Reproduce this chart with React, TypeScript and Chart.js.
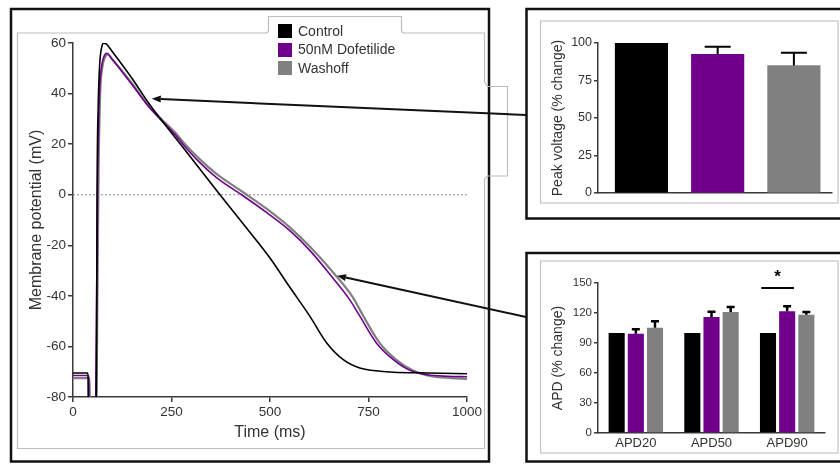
import React, { useEffect, useRef, useState } from 'react';
import { Chart, registerables } from 'chart.js';

Chart.register(...registerables);

const FONT = "'Liberation Sans', Arial, Helvetica, sans-serif";
const TEXT = '#333333';
const AXIS = '#3a3a3a';

// ---------- series ----------
const SERIES = ['Control', '50nM Dofetilide', 'Washoff'];
const COLORS = ['#000000', '#70008c', '#808080'];

// ---------- action potential traces (time in ms, potential in mV) ----------
const CONTROL_TIME = [0, 38, 39, 59, 60, 61, 64, 68, 73, 78, 85, 100, 150, 195, 280, 373, 450, 500, 550, 601, 644, 686, 728, 780, 813, 900, 1000];
const CONTROL_MV = [-70.5, -70.5, -85, -85, -53, -2, 35, 52, 58.5, 60, 59.6, 56.6, 46, 35.6, 18.6, 0, -15, -25, -36.5, -48, -58.6, -65.2, -68.5, -69.8, -70.2, -70.5, -70.8];

const DOF_TIME = [0, 40, 41, 57, 60, 63, 67, 72, 78, 86, 100, 150, 195, 259, 280, 320, 365, 428, 492, 551, 601, 660, 700, 728, 770, 813, 855, 900, 950, 1000];
const DOF_MV = [-71.5, -71.5, -85, -85, -40, 10, 40, 50, 54.5, 56, 53.5, 43.5, 34.3, 23.8, 19.8, 13, 6.7, 0, -7.1, -14.3, -22, -33, -41, -48, -58.6, -65.2, -69.4, -71.2, -71.8, -72];

const WASH_TIME = [0, 42, 43, 59, 62, 65, 69, 74, 80, 88, 100, 150, 195, 260, 280, 320, 365, 430, 492, 551, 601, 669, 710, 737, 778, 820, 862, 910, 960, 1000];
const WASH_MV = [-72.5, -72.5, -85, -85, -40, 10, 40, 50, 54, 55.5, 53.5, 44, 34.6, 24.5, 20.8, 14.3, 8.2, 1.2, -5.6, -13, -20.5, -32.3, -40.5, -48, -58.6, -65.2, -69.4, -71.8, -72.5, -72.8];

const ZERO_LINE_TIME = [0, 1000];
const ZERO_LINE_MV = [0, 0];

// arrow targets on the traces (data units)
const ARROW_TIME = [200, 670];
const ARROW_MV = [38, -32];

// ---------- peak voltage (% change) ----------
const PEAK_MEAN = [100, 92.5, 85];
const PEAK_ERR = [0, 5, 8.5];

// ---------- APD (% change) ----------
const APD_LABELS = ['APD20', 'APD50', 'APD90'];
const APD_CONTROL = [100, 100, 100];
const APD_CONTROL_ERR = [0, 0, 0];
const APD_DOF = [99.3, 116, 121.7];
const APD_DOF_ERR = [4.5, 5.3, 5];
const APD_WASH = [105.3, 121, 118.3];
const APD_WASH_ERR = [6.4, 5, 2.7];
const APD_SIG = { group: 2, from: 0, to: 1, level: 145, text: '*' };

// ---------- layout (page pixels) ----------
const MAIN = { left: 17, top: 33, width: 467, height: 415 };
const PEAK = { left: 540, top: 21, width: 296, height: 182 };
const APD = { left: 540, top: 261, width: 296, height: 192 };
const ARROW_TAILS = [
  { x: 526, y: 115 },
  { x: 526, y: 317 },
];

const errorBarPlugin = {
  id: 'errorBars',
  afterDatasetsDraw(chart: any, _args: any, opts: any) {
    const { ctx } = chart;
    const yScale = chart.scales.y;
    chart.data.datasets.forEach((ds: any, di: number) => {
      if (!ds.errors) return;
      const meta = chart.getDatasetMeta(di);
      meta.data.forEach((bar: any, i: number) => {
        const e = ds.errors[i];
        if (!e) return;
        const raw = ds.data[i];
        const v = typeof raw === 'number' ? raw : raw.y;
        const yTop = yScale.getPixelForValue(v + e);
        ctx.save();
        ctx.strokeStyle = '#000';
        ctx.lineWidth = opts.lineWidth || 2;
        ctx.beginPath();
        ctx.moveTo(bar.x, bar.y);
        ctx.lineTo(bar.x, yTop);
        ctx.moveTo(bar.x - opts.cap / 2, yTop);
        ctx.lineTo(bar.x + opts.cap / 2, yTop);
        ctx.stroke();
        ctx.restore();
      });
    });
  },
};

const sigPlugin = {
  id: 'significance',
  afterDatasetsDraw(chart: any) {
    const { ctx } = chart;
    const a = chart.getDatasetMeta(APD_SIG.from).data[APD_SIG.group];
    const b = chart.getDatasetMeta(APD_SIG.to).data[APD_SIG.group];
    if (!a || !b) return;
    const mid = (a.x + b.x) / 2;
    const half = (b.x - a.x) * 0.85;
    const y = chart.scales.y.getPixelForValue(APD_SIG.level);
    ctx.save();
    ctx.strokeStyle = '#000';
    ctx.lineWidth = 2;
    ctx.beginPath();
    ctx.moveTo(mid - half, y);
    ctx.lineTo(mid + half, y);
    ctx.stroke();
    ctx.fillStyle = '#000';
    ctx.font = `bold 17px ${FONT}`;
    ctx.textAlign = 'center';
    ctx.textBaseline = 'alphabetic';
    ctx.fillText(APD_SIG.text, mid, y - 6);
    ctx.restore();
  },
};

function traceDs(label: string, time: number[], mv: number[], color: string, width: number) {
  return {
    label,
    data: time.map((t, i) => ({ x: t, y: mv[i] })),
    borderColor: color,
    backgroundColor: color,
    borderWidth: width,
    pointRadius: 0,
    cubicInterpolationMode: 'monotone',
    fill: false,
  };
}

const tickFont = (size: number) => ({ size, family: FONT });
const plainNumber = (v: any) => String(v);

export default function App() {
  const mainRef = useRef<HTMLCanvasElement>(null);
  const peakRef = useRef<HTMLCanvasElement>(null);
  const apdRef = useRef<HTMLCanvasElement>(null);
  const [arrows, setArrows] = useState<{ x: number; y: number }[]>([]);

  useEffect(() => {
    Chart.defaults.font.family = FONT;
    Chart.defaults.color = TEXT;
    const charts: Chart[] = [];

    const main = new Chart(mainRef.current as HTMLCanvasElement, {
      type: 'line',
      data: {
        datasets: [
          traceDs(SERIES[0], CONTROL_TIME, CONTROL_MV, COLORS[0], 1.6),
          traceDs(SERIES[1], DOF_TIME, DOF_MV, COLORS[1], 1.6),
          traceDs(SERIES[2], WASH_TIME, WASH_MV, COLORS[2], 2.2),
          {
            label: 'zero',
            data: ZERO_LINE_TIME.map((t, i) => ({ x: t, y: ZERO_LINE_MV[i] })),
            borderColor: '#8a8a8a',
            borderWidth: 1,
            borderDash: [2, 2],
            pointRadius: 0,
            fill: false,
          },
        ] as any,
      },
      options: {
        responsive: false,
        animation: false,
        layout: { padding: { top: 10, right: 17, bottom: 0, left: 0 } },
        plugins: { legend: { display: false }, tooltip: { enabled: false } },
        scales: {
          x: {
            type: 'linear',
            min: 0,
            max: 1000,
            ticks: { stepSize: 250, color: TEXT, font: tickFont(13.5), padding: 2, maxRotation: 0, autoSkip: false, callback: plainNumber },
            grid: { display: true, drawOnChartArea: false, drawTicks: true, tickLength: 5, color: AXIS, lineWidth: 1.5 },
            border: { display: true, color: AXIS, width: 1.5 },
            title: { display: true, text: 'Time (ms)', color: TEXT, font: { size: 16, family: FONT, lineHeight: 1.2 }, padding: { top: 0, bottom: 6 } },
            afterFit: (s: any) => { s.height = 51; },
          },
          y: {
            min: -80,
            max: 60,
            ticks: { stepSize: 20, color: TEXT, font: tickFont(13.5), padding: 2, callback: plainNumber },
            grid: { display: true, drawOnChartArea: false, drawTicks: true, tickLength: 5, color: AXIS, lineWidth: 1.5 },
            border: { display: true, color: AXIS, width: 1.5 },
            title: { display: true, text: 'Membrane potential (mV)', color: TEXT, font: { size: 16, family: FONT, lineHeight: 1.2 }, padding: { top: 10, bottom: 0 } },
            afterFit: (s: any) => { s.width = 56; },
          },
        },
      } as any,
    });
    charts.push(main);

    const xs = main.scales.x;
    const ys = main.scales.y;
    setArrows(ARROW_TIME.map((t, i) => ({
      x: MAIN.left + xs.getPixelForValue(t),
      y: MAIN.top + ys.getPixelForValue(ARROW_MV[i]),
    })));

    charts.push(new Chart(peakRef.current as HTMLCanvasElement, {
      type: 'bar',
      data: {
        datasets: [{
          label: 'Peak voltage',
          data: PEAK_MEAN.map((v, i) => ({ x: i, y: v })),
          backgroundColor: COLORS,
          borderWidth: 0,
          barThickness: 52.5,
          errors: PEAK_ERR,
        }] as any,
      },
      options: {
        responsive: false,
        animation: false,
        layout: { padding: { top: 22, right: 4, bottom: 0, left: 0 } },
        plugins: { legend: { display: false }, tooltip: { enabled: false }, errorBars: { cap: 26, lineWidth: 2 } },
        scales: {
          x: {
            type: 'linear',
            offset: false,
            min: -0.57,
            max: 2.5,
            ticks: { display: false },
            grid: { display: true, drawOnChartArea: false, drawTicks: false, color: AXIS, lineWidth: 1.5 },
            border: { display: true, color: AXIS, width: 1.5 },
            afterFit: (s: any) => { s.height = 10; },
          },
          y: {
            min: 0,
            max: 100,
            ticks: { stepSize: 25, color: TEXT, font: tickFont(12.5), padding: 2 },
            grid: { display: true, drawOnChartArea: false, drawTicks: true, tickLength: 4, color: AXIS, lineWidth: 1.5 },
            border: { display: true, color: AXIS, width: 1.5 },
            title: { display: true, text: 'Peak voltage (% change)', color: TEXT, font: { size: 14, family: FONT, lineHeight: 1.2 }, padding: { top: 10, bottom: 0 } },
            afterFit: (s: any) => { s.width = 58; },
          },
        },
      } as any,
      plugins: [errorBarPlugin] as any,
    }));

    charts.push(new Chart(apdRef.current as HTMLCanvasElement, {
      type: 'bar',
      data: {
        labels: APD_LABELS,
        datasets: [
          { label: SERIES[0], data: APD_CONTROL, errors: APD_CONTROL_ERR, backgroundColor: COLORS[0] },
          { label: SERIES[1], data: APD_DOF, errors: APD_DOF_ERR, backgroundColor: COLORS[1] },
          { label: SERIES[2], data: APD_WASH, errors: APD_WASH_ERR, backgroundColor: COLORS[2] },
        ] as any,
      },
      options: {
        responsive: false,
        animation: false,
        datasets: { bar: { categoryPercentage: 0.76, barPercentage: 0.84, borderWidth: 0 } },
        layout: { padding: { top: 22, right: 11, bottom: 0, left: 0 } },
        plugins: { legend: { display: false }, tooltip: { enabled: false }, errorBars: { cap: 8, lineWidth: 2.5 } },
        scales: {
          x: {
            ticks: { color: TEXT, font: tickFont(13), padding: 3, autoSkip: false, maxRotation: 0 },
            grid: { display: true, drawOnChartArea: false, drawTicks: false, color: AXIS, lineWidth: 1.5 },
            border: { display: true, color: AXIS, width: 1.5 },
            afterFit: (s: any) => { s.height = 20; },
          },
          y: {
            min: 0,
            max: 150,
            ticks: { stepSize: 30, color: TEXT, font: tickFont(11.5), padding: 2 },
            grid: { display: true, drawOnChartArea: false, drawTicks: true, tickLength: 4, color: AXIS, lineWidth: 1.5 },
            border: { display: true, color: AXIS, width: 1.5 },
            title: { display: true, text: 'APD (% change)', color: TEXT, font: { size: 14, family: FONT, lineHeight: 1.2 }, padding: { top: 10, bottom: 0 } },
            afterFit: (s: any) => { s.width = 58; },
          },
        },
      } as any,
      plugins: [errorBarPlugin, sigPlugin] as any,
    }));

    return () => { charts.forEach((c) => c.destroy()); };
  }, []);

  const arrowEls = arrows.map((h, i) => {
    const t = ARROW_TAILS[i];
    const dx = h.x - t.x;
    const dy = h.y - t.y;
    const len = Math.hypot(dx, dy);
    const ux = dx / len;
    const uy = dy / len;
    const nx = -uy;
    const ny = ux;
    const L = 9;
    const W = 3.5;
    const bx = h.x - ux * L;
    const by = h.y - uy * L;
    return (
      <g key={i}>
        <line x1={t.x} y1={t.y} x2={bx} y2={by} stroke="#111" strokeWidth={2} />
        <polygon points={`${h.x},${h.y} ${bx + nx * W},${by + ny * W} ${bx - nx * W},${by - ny * W}`} fill="#111" />
      </g>
    );
  });

  return (
    <div style={{ position: 'absolute', left: 0, top: 0, width: 840, height: 464, background: '#fff', overflow: 'hidden', fontFamily: FONT }}>
      <canvas ref={mainRef} width={MAIN.width} height={MAIN.height} style={{ position: 'absolute', left: MAIN.left, top: MAIN.top, width: MAIN.width, height: MAIN.height }} />
      <canvas ref={peakRef} width={PEAK.width} height={PEAK.height} style={{ position: 'absolute', left: PEAK.left, top: PEAK.top, width: PEAK.width, height: PEAK.height }} />
      <canvas ref={apdRef} width={APD.width} height={APD.height} style={{ position: 'absolute', left: APD.left, top: APD.top, width: APD.width, height: APD.height }} />
      <svg width={840} height={464} style={{ position: 'absolute', left: 0, top: 0, pointerEvents: 'none' }}>
        {/* panel frames */}
        <rect x={11} y={9} width={478} height={452.5} fill="none" stroke="#111" strokeWidth={2.5} />
        <rect x={526.5} y={9} width={320} height={209.5} fill="none" stroke="#111" strokeWidth={2.5} />
        <rect x={526.5} y={253} width={320} height={208.5} fill="none" stroke="#111" strokeWidth={2.5} />
        {/* inner light boxes */}
        <path
          d="M17.5 33 L265.5 33 Q268.5 33 268.5 30 L268.5 16.5 L401.5 16.5 L401.5 30 Q401.5 33 404.5 33 L484.5 33 L484.5 82 L487.5 86.5 L507.5 86.5 L507.5 176 L487.5 176 L484.5 179 L484.5 448.5 L17.5 448.5 Z"
          fill="none" stroke="#bdbdbd" strokeWidth={1.2}
        />
        <rect x={540.5} y={21} width={297.5} height={182} fill="none" stroke="#c4c4c4" strokeWidth={1.2} />
        <rect x={540.5} y={261} width={297.5} height={192} fill="none" stroke="#c4c4c4" strokeWidth={1.2} />
        {arrowEls}
      </svg>
      <div style={{ position: 'absolute', left: 278, top: 21.7, fontSize: 14, lineHeight: '18.7px', color: TEXT, fontFamily: FONT }}>
        {SERIES.map((s, i) => (
          <div key={s} style={{ display: 'flex', alignItems: 'center', height: 18.7, whiteSpace: 'nowrap' }}>
            <span style={{ display: 'inline-block', width: 14, height: 14, background: COLORS[i], marginRight: 6 }} />
            <span>{s}</span>
          </div>
        ))}
      </div>
    </div>
  );
}
